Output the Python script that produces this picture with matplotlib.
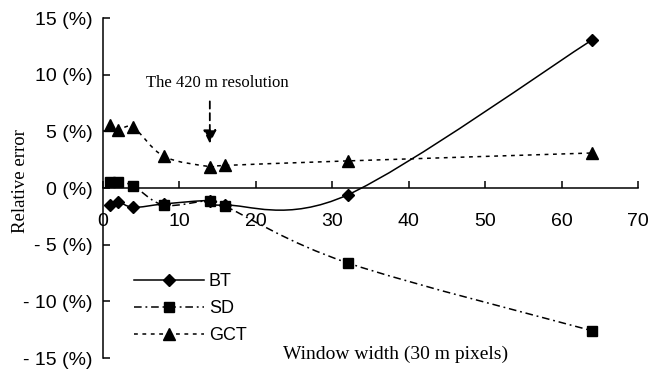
import matplotlib
matplotlib.use("Agg")
import matplotlib.pyplot as plt
from matplotlib.path import Path
from matplotlib.patches import PathPatch
from matplotlib.lines import Line2D
import numpy as np

window = [1, 2, 4, 8, 14, 16, 32, 64]
bt = [-1.5, -1.2, -1.7, -1.4, -1.1, -1.5, -0.6, 13.1]
sd = [0.55, 0.55, 0.2, -1.5, -1.1, -1.6, -6.6, -12.6]
gct = [5.6, 5.1, 5.35, 2.8, 1.9, 2.0, 2.4, 3.1]
series_names = ["BT", "SD", "GCT"]
xticks = [0, 10, 20, 30, 40, 50, 60, 70]
yticks = [15, 10, 5, 0, -5, -10, -15]
ytick_labels = ["15 (%)", "10 (%)", "5 (%)", "0 (%)", "- 5 (%)", "- 10 (%)", "- 15 (%)"]

SANS = "Liberation Sans"
SERIF = "Liberation Serif"


def smooth_path(xs, ys):
    """Excel-like smoothed line: cubic Bezier through the points (Catmull-Rom control points)."""
    p = np.column_stack([xs, ys]).astype(float)
    n = len(p)
    verts = [p[0]]
    codes = [Path.MOVETO]
    for i in range(n - 1):
        p0 = p[i - 1] if i > 0 else p[i]
        p1 = p[i]
        p2 = p[i + 1]
        p3 = p[i + 2] if i + 2 < n else p[i + 1]
        c1 = p1 + (p2 - p0) / 6.0
        c2 = p2 - (p3 - p1) / 6.0
        verts += [c1, c2, p2]
        codes += [Path.CURVE4] * 3
    return Path(verts, codes)


fig = plt.figure(figsize=(6.5, 3.71), dpi=100)
ax = fig.add_axes([0.158, 0.035, 0.824, 0.916])

styles = [
    dict(marker="D", ms=6.0, ls="-"),
    dict(marker="s", ms=7.5, ls=(0, (5, 2.5, 1.2, 2.5))),
    dict(marker="^", ms=8.5, ls=(0, (2.5, 3))),
]
data = [bt, sd, gct]
lw = 1.1
handles = []
for name, ys, st in zip(series_names, data, styles):
    patch = PathPatch(smooth_path(window, ys), fill=False, edgecolor="black",
                      lw=lw, linestyle=st["ls"], transform=ax.transData)
    ax.add_patch(patch)
    ax.plot(window, ys, linestyle="none", marker=st["marker"], ms=st["ms"],
            color="black", mec="black")
    handles.append(Line2D([], [], color="black", lw=lw, linestyle=st["ls"],
                          marker=st["marker"], ms=st["ms"], label=name))

ax.set_xlim(0, 70)
ax.set_ylim(-15, 15)
ax.spines["top"].set_visible(False)
ax.spines["right"].set_visible(False)
ax.spines["bottom"].set_position(("data", 0))
for s in ("left", "bottom"):
    ax.spines[s].set_linewidth(1.1)
    ax.spines[s].set_color("black")

ax.set_xticks(xticks)
ax.set_xticklabels([str(t) for t in xticks], fontfamily=SANS, fontsize=14)
ax.set_yticks(yticks)
ax.set_yticklabels(ytick_labels, fontfamily=SANS, fontsize=14)
ax.tick_params(axis="x", direction="in", length=5, width=1.1, pad=18)
ax.tick_params(axis="y", direction="in", length=5, width=1.1, pad=7)

ax.set_ylabel("Relative error", fontfamily=SERIF, fontsize=13.5, labelpad=8)
ax.yaxis.set_label_coords(-0.138, 0.52)
fig.text(0.608, 0.045, "Window width (30 m pixels)", fontfamily=SERIF, fontsize=14,
         ha="center", va="center")

ax.annotate("", xy=(14, 3.7), xytext=(14, 7.9),
            arrowprops=dict(arrowstyle="-|>", color="black", lw=1.3,
                            linestyle=(0, (4, 2.5)), mutation_scale=20))
ax.text(15.0, 9.3, "The 420 m resolution", fontfamily=SERIF, fontsize=12,
        ha="center", va="center")

leg = ax.legend(handles=handles, loc="upper left", bbox_to_anchor=(0.045, 0.27),
                frameon=False, prop=dict(family=SANS, size=13),
                handlelength=3.9, handletextpad=0.25, labelspacing=0.55,
                borderaxespad=0)

fig.savefig("out.png", dpi=100)
